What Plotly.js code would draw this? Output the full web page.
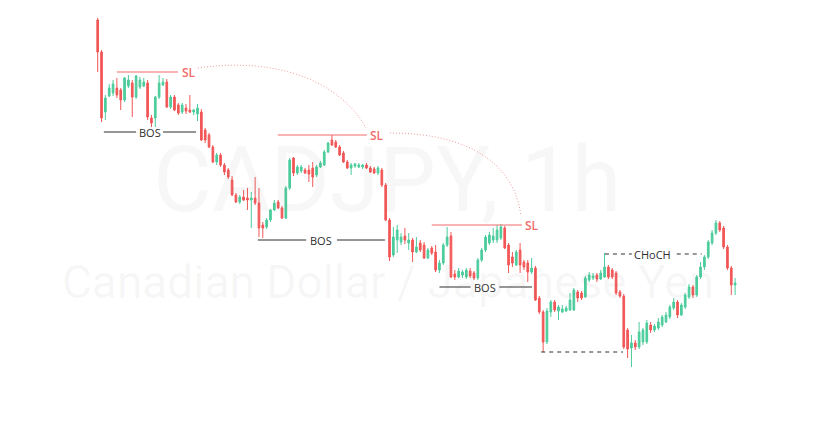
<!DOCTYPE html>
<html>
<head>
<meta charset="utf-8">
<script src="https://cdn.plot.ly/plotly-3.0.1.min.js"></script>
<style>
  html, body { margin: 0; padding: 0; background: #ffffff; }
  #chart { width: 836px; height: 424px; }
</style>
</head>
<body>
<div id="chart"></div>
<script>
// CADJPY hourly candles
const open = [
  110.80, 110.48, 109.88, 110.04, 110.07, 110.12, 110.10, 110.00, 110.14, 110.17,
  110.03, 110.13, 110.14, 110.17, 109.82, 109.82, 110.03, 110.15, 110.18, 109.93,
  110.03, 109.95, 109.88, 109.92, 109.90, 109.88, 109.86, 109.88, 109.70, 109.65,
  109.53, 109.38, 109.45, 109.35, 109.30, 109.20, 109.05, 108.98, 109.03, 109.02,
  109.00, 109.02, 108.97, 108.75, 108.73, 108.80, 108.90, 108.98, 108.92, 108.82,
  109.12, 109.42, 109.27, 109.29, 109.30, 109.30, 109.32, 109.25, 109.33, 109.35,
  109.48, 109.60, 109.58, 109.53, 109.47, 109.38, 109.32, 109.34, 109.33, 109.33,
  109.35, 109.32, 109.31, 109.27, 109.30, 109.15, 108.80, 108.45, 108.60, 108.58,
  108.64, 108.57, 108.60, 108.48, 108.57, 108.55, 108.42, 108.52, 108.48, 108.30,
  108.37, 108.55, 108.64, 108.26, 108.23, 108.25, 108.23, 108.29, 108.27, 108.22,
  108.40, 108.50, 108.57, 108.60, 108.60, 108.62, 108.72, 108.55, 108.43, 108.35,
  108.50, 108.38, 108.37, 108.28, 108.32, 108.02, 107.88, 107.58, 107.88, 107.98,
  107.89, 107.88, 107.89, 107.90, 107.90, 108.08, 108.07, 108.03, 108.20, 108.22,
  108.25, 108.21, 108.23, 108.33, 108.30, 108.27, 108.08, 108.04, 107.70, 107.52,
  107.57, 107.53, 107.58, 107.58, 107.75, 107.70, 107.72, 107.75, 107.78, 107.83,
  107.92, 107.98, 107.85, 107.93, 108.03, 108.13, 108.05, 108.23, 108.33, 108.43,
  108.57, 108.67, 108.77, 108.72, 108.53, 108.32, 108.15
];
const high = [
  110.82, 110.50, 110.05, 110.16, 110.20, 110.22, 110.12, 110.23, 110.25, 110.20,
  110.25, 110.23, 110.22, 110.20, 109.85, 110.04, 110.25, 110.22, 110.21, 110.05,
  110.05, 109.97, 109.97, 109.96, 110.05, 109.91, 109.96, 109.91, 109.72, 109.67,
  109.55, 109.47, 109.47, 109.37, 109.32, 109.24, 109.07, 109.05, 109.10, 109.12,
  109.08, 109.23, 109.12, 108.78, 108.82, 108.91, 109.00, 109.00, 108.94, 109.14,
  109.42, 109.43, 109.35, 109.35, 109.32, 109.35, 109.38, 109.35, 109.39, 109.50,
  109.58, 109.65, 109.60, 109.55, 109.49, 109.40, 109.37, 109.37, 109.37, 109.36,
  109.37, 109.34, 109.33, 109.34, 109.32, 109.17, 108.82, 108.73, 108.75, 108.67,
  108.72, 108.67, 108.62, 108.63, 108.60, 108.58, 108.52, 108.54, 108.55, 108.40,
  108.57, 108.73, 108.68, 108.30, 108.32, 108.30, 108.32, 108.32, 108.29, 108.42,
  108.52, 108.65, 108.68, 108.72, 108.75, 108.76, 108.74, 108.57, 108.48, 108.50,
  108.57, 108.40, 108.40, 108.42, 108.34, 108.04, 107.90, 107.92, 108.00, 108.00,
  107.95, 107.95, 107.94, 108.07, 108.12, 108.10, 108.09, 108.24, 108.28, 108.27,
  108.27, 108.30, 108.47, 108.35, 108.32, 108.29, 108.10, 108.06, 107.72, 107.65,
  107.60, 107.78, 107.72, 107.80, 107.78, 107.76, 107.82, 107.85, 107.88, 107.95,
  108.02, 108.00, 107.97, 108.07, 108.16, 108.15, 108.25, 108.38, 108.45, 108.60,
  108.70, 108.80, 108.79, 108.74, 108.55, 108.34, 108.22
];
const low = [
  110.28, 109.78, 109.80, 110.03, 110.04, 110.02, 109.90, 109.98, 110.12, 109.83,
  110.01, 110.11, 110.13, 109.80, 109.73, 109.73, 110.01, 110.14, 109.92, 109.91,
  109.89, 109.85, 109.86, 109.86, 109.87, 109.85, 109.79, 109.59, 109.57, 109.52,
  109.37, 109.35, 109.33, 109.25, 109.21, 109.04, 108.97, 108.96, 108.99, 108.90,
  108.72, 108.95, 108.63, 108.62, 108.71, 108.78, 108.89, 108.91, 108.81, 108.81,
  109.10, 109.24, 109.25, 109.27, 109.26, 109.18, 109.13, 109.23, 109.32, 109.34,
  109.47, 109.54, 109.52, 109.44, 109.37, 109.31, 109.25, 109.32, 109.32, 109.31,
  109.31, 109.27, 109.26, 109.25, 109.13, 108.79, 108.39, 108.43, 108.47, 108.55,
  108.56, 108.50, 108.38, 108.47, 108.48, 108.41, 108.41, 108.45, 108.28, 108.27,
  108.35, 108.53, 108.22, 108.20, 108.22, 108.22, 108.21, 108.22, 108.20, 108.20,
  108.38, 108.48, 108.55, 108.57, 108.57, 108.60, 108.51, 108.27, 108.33, 108.34,
  108.27, 108.30, 108.18, 108.26, 107.99, 107.86, 107.48, 107.56, 107.83, 107.88,
  107.80, 107.87, 107.88, 107.89, 107.89, 107.98, 108.00, 108.02, 108.18, 108.20,
  108.18, 108.20, 108.22, 108.21, 108.21, 108.05, 108.02, 107.51, 107.42, 107.33,
  107.50, 107.51, 107.55, 107.56, 107.67, 107.68, 107.70, 107.73, 107.77, 107.81,
  107.90, 107.82, 107.84, 107.91, 108.01, 108.02, 108.03, 108.21, 108.30, 108.41,
  108.55, 108.65, 108.68, 108.51, 108.30, 108.05, 108.05
];
const close = [
  110.48, 109.82, 110.02, 110.12, 110.16, 110.05, 110.00, 110.22, 110.20, 110.03,
  110.24, 110.20, 110.18, 109.83, 109.77, 110.03, 110.17, 110.18, 109.93, 110.03,
  109.90, 109.87, 109.95, 109.89, 109.88, 109.90, 109.92, 109.60, 109.60, 109.53,
  109.38, 109.45, 109.35, 109.28, 109.23, 109.05, 108.98, 109.03, 109.00, 109.00,
  109.02, 108.97, 108.72, 108.72, 108.80, 108.90, 108.97, 108.92, 108.82, 109.12,
  109.40, 109.27, 109.33, 109.33, 109.27, 109.26, 109.23, 109.33, 109.37, 109.48,
  109.57, 109.55, 109.53, 109.45, 109.38, 109.32, 109.35, 109.36, 109.35, 109.35,
  109.32, 109.28, 109.27, 109.32, 109.15, 108.80, 108.43, 108.63, 108.70, 108.63,
  108.60, 108.60, 108.48, 108.53, 108.50, 108.42, 108.50, 108.47, 108.30, 108.37,
  108.55, 108.63, 108.23, 108.23, 108.29, 108.28, 108.30, 108.24, 108.22, 108.40,
  108.50, 108.63, 108.65, 108.64, 108.70, 108.73, 108.52, 108.35, 108.37, 108.48,
  108.35, 108.33, 108.28, 108.32, 108.00, 107.88, 107.58, 107.89, 107.98, 107.90,
  107.93, 107.91, 107.92, 108.00, 108.10, 108.02, 108.02, 108.22, 108.25, 108.24,
  108.21, 108.27, 108.33, 108.23, 108.23, 108.07, 108.04, 107.53, 107.51, 107.57,
  107.53, 107.68, 107.70, 107.77, 107.70, 107.74, 107.78, 107.83, 107.85, 107.93,
  107.98, 107.85, 107.95, 108.05, 108.13, 108.05, 108.23, 108.33, 108.43, 108.58,
  108.67, 108.77, 108.70, 108.53, 108.32, 108.15, 108.17
];

const symbolTitle = 'CADJPY, 1h';
const symbolName = 'Canadian Dollar / Japanese Yen';

// bar number on the x axis
const bars = close.map((_, i) => i);

const UP = '#4ccc9c';
const DOWN = '#f25757';
const SL_RED = '#f26a6a';
const INK = '#2f2f2f';

// market-structure drawings: [from bar, to bar, price]
const slLines = [
  { x0: 5.0, x1: 20.9, y: 110.28, lx: 23.8 },
  { x0: 46.9, x1: 70.1, y: 109.65, lx: 72.7 },
  { x0: 87.0, x1: 110.5, y: 108.75, lx: 113.1 }
];
const bosLines = [
  { segs: [[1.6, 10.0], [17.0, 25.6]], y: 109.68, lx: 13.5, text: 'BOS', dash: 'solid' },
  { segs: [[41.7, 54.3], [62.3, 74.8]], y: 108.60, lx: 58.2, text: 'BOS', dash: 'solid' },
  { segs: [[89.0, 97.1], [104.6, 113.1]], y: 108.13, lx: 100.9, text: 'BOS', dash: 'solid' },
  { segs: [[132.1, 139.1], [150.8, 157.3]], y: 108.46, lx: 144.5, text: 'CHoCH', dash: '4px,4px' },
  { segs: [[115.5, 136.8]], y: 107.48, lx: null, text: '', dash: '4px,4px' }
];
// dotted arcs linking the stop levels
const arcs = [
  'M 26.1,110.32 C 50.1,110.45 64.4,110.10 69.9,109.72',
  'M 76.1,109.67 C 97.0,109.67 108.7,109.35 110.2,108.84'
];

const shapes = [];
const annotations = [];

slLines.forEach(s => {
  shapes.push({ type: 'line', xref: 'x', yref: 'y', x0: s.x0, x1: s.x1, y0: s.y, y1: s.y,
    line: { color: SL_RED, width: 1 } });
  annotations.push({ xref: 'x', yref: 'y', x: s.lx, y: s.y, text: 'SL', showarrow: false,
    xanchor: 'center', yanchor: 'middle',
    font: { family: 'Open Sans, sans-serif', size: 12, color: SL_RED, weight: 600 } });
});
bosLines.forEach(b => {
  b.segs.forEach(sg => {
    shapes.push({ type: 'line', xref: 'x', yref: 'y', x0: sg[0], x1: sg[1], y0: b.y, y1: b.y,
      line: { color: INK, width: 1, dash: b.dash } });
  });
  if (b.text) {
    annotations.push({ xref: 'x', yref: 'y', x: b.lx, y: b.y, text: b.text, showarrow: false,
      xanchor: 'center', yanchor: 'middle',
      font: { family: 'Open Sans, sans-serif', size: 11, color: INK } });
  }
});
arcs.forEach(p => {
  shapes.push({ type: 'path', xref: 'x', yref: 'y', path: p,
    line: { color: '#f39c9c', width: 1, dash: '1px,2px' } });
});

const watermark = {
  type: 'scatter', mode: 'text',
  x: [75.4, 75.6], y: [109.12, 108.14],
  text: [symbolTitle, symbolName],
  textposition: 'middle center',
  textfont: { family: 'Roboto, sans-serif', size: [90, 46], color: 'rgba(120,120,120,0.06)' },
  hoverinfo: 'skip', showlegend: false, cliponaxis: false
};

const candles = {
  type: 'candlestick',
  x: bars, open: open, high: high, low: low, close: close,
  increasing: { line: { color: UP, width: 1 }, fillcolor: UP },
  decreasing: { line: { color: DOWN, width: 1 }, fillcolor: DOWN },
  whiskerwidth: 0,
  hoverinfo: 'skip', showlegend: false
};

const layout = {
  width: 836, height: 424,
  margin: { l: 0, r: 0, t: 0, b: 0 },
  paper_bgcolor: '#ffffff', plot_bgcolor: '#ffffff',
  showlegend: false,
  boxgap: 0.38,
  xaxis: { range: [-25.44, 192.27], visible: false, rangeslider: { visible: false }, fixedrange: true },
  yaxis: { range: [106.76, 111.00], visible: false, fixedrange: true },
  shapes: shapes,
  annotations: annotations
};

Plotly.newPlot('chart', [watermark, candles], layout, { staticPlot: true, displayModeBar: false });
</script>
</body>
</html>
